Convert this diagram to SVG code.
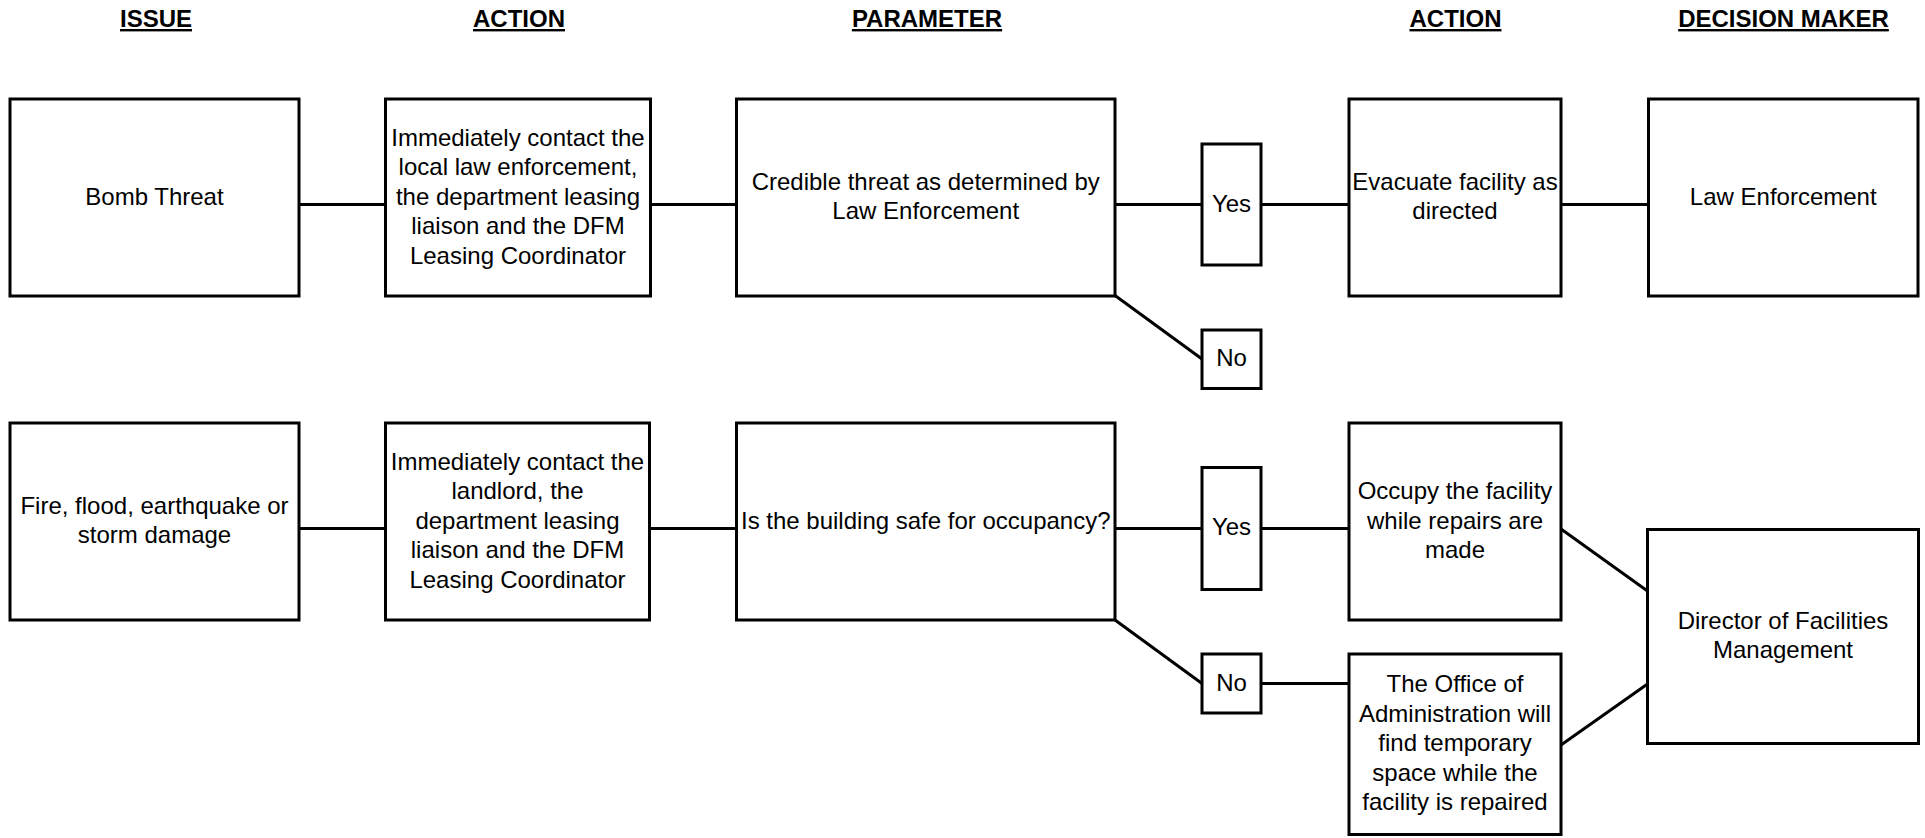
<svg xmlns="http://www.w3.org/2000/svg" width="1925" height="838" viewBox="0 0 1925 838">
<style>
.bg{fill:#fff}
.box{fill:#fff;stroke:#000;stroke-width:3}
.ln{stroke:#000;stroke-width:3;fill:none}
.t{font-family:"Liberation Sans",Arial,sans-serif;font-size:24px;fill:#000;text-anchor:middle}
.h{font-family:"Liberation Sans",Arial,sans-serif;font-size:24px;font-weight:bold;fill:#000;text-anchor:middle;text-decoration:underline}
</style>
<rect class="bg" x="0" y="0" width="1925" height="838"/>
<g id="headers">
<text class="h" x="156" y="27">ISSUE</text>
<text class="h" x="519" y="27">ACTION</text>
<text class="h" x="927" y="27">PARAMETER</text>
<text class="h" x="1455.5" y="27">ACTION</text>
<text class="h" x="1783.5" y="27">DECISION MAKER</text>
</g>
<g id="connectors">
<line class="ln" x1="299" y1="204.5" x2="385.5" y2="204.5"/>
<line class="ln" x1="650.5" y1="204.5" x2="736.5" y2="204.5"/>
<line class="ln" x1="1115" y1="204.5" x2="1202" y2="204.5"/>
<line class="ln" x1="1261" y1="204.5" x2="1349" y2="204.5"/>
<line class="ln" x1="1561" y1="204.5" x2="1648.5" y2="204.5"/>
<line class="ln" x1="1115" y1="295.5" x2="1202" y2="359"/>
<line class="ln" x1="299" y1="528.5" x2="385.5" y2="528.5"/>
<line class="ln" x1="649.5" y1="528.5" x2="736.5" y2="528.5"/>
<line class="ln" x1="1115" y1="528.5" x2="1202" y2="528.5"/>
<line class="ln" x1="1261" y1="528.5" x2="1349" y2="528.5"/>
<line class="ln" x1="1115" y1="620" x2="1202" y2="683.5"/>
<line class="ln" x1="1261" y1="683.5" x2="1349" y2="683.5"/>
<line class="ln" x1="1561" y1="529" x2="1647.5" y2="591"/>
<line class="ln" x1="1561" y1="745" x2="1647.5" y2="684"/>
</g>
<g id="bomb"><rect class="box" x="10" y="99" width="289" height="197"/><text class="t" x="154.5" y="204.5">Bomb Threat</text></g>
<g id="action1"><rect class="box" x="385.5" y="99" width="265" height="197"/><text class="t" x="518" y="145.5">Immediately contact the<tspan x="518" dy="29.5">local law enforcement,</tspan><tspan x="518" dy="29.5">the department leasing</tspan><tspan x="518" dy="29.5">liaison and the DFM</tspan><tspan x="518" dy="29.5">Leasing Coordinator</tspan></text></g>
<g id="param1"><rect class="box" x="736.5" y="99" width="378.5" height="197"/><text class="t" x="925.75" y="189.75">Credible threat as determined by<tspan x="925.75" dy="29.5">Law Enforcement</tspan></text></g>
<g id="yes1"><rect class="box" x="1202" y="144" width="59" height="121"/><text class="t" x="1231.5" y="211.5">Yes</text></g>
<g id="no1"><rect class="box" x="1202" y="330" width="59" height="58.5"/><text class="t" x="1231.5" y="366.3">No</text></g>
<g id="evacuate"><rect class="box" x="1349" y="99" width="212" height="197"/><text class="t" x="1455" y="189.75">Evacuate facility as<tspan x="1455" dy="29.5">directed</tspan></text></g>
<g id="lawenf"><rect class="box" x="1648.5" y="99" width="269.5" height="197"/><text class="t" x="1783.25" y="204.5">Law Enforcement</text></g>
<g id="fire"><rect class="box" x="10" y="423" width="289" height="197"/><text class="t" x="154.5" y="513.75">Fire, flood, earthquake or<tspan x="154.5" dy="29.5">storm damage</tspan></text></g>
<g id="action2"><rect class="box" x="385.5" y="423" width="264" height="197"/><text class="t" x="517.5" y="469.5">Immediately contact the<tspan x="517.5" dy="29.5">landlord, the</tspan><tspan x="517.5" dy="29.5">department leasing</tspan><tspan x="517.5" dy="29.5">liaison and the DFM</tspan><tspan x="517.5" dy="29.5">Leasing Coordinator</tspan></text></g>
<g id="param2"><rect class="box" x="736.5" y="423" width="378.5" height="197"/><text class="t" x="925.75" y="528.5">Is the building safe for occupancy?</text></g>
<g id="yes2"><rect class="box" x="1202" y="467.5" width="59" height="122"/><text class="t" x="1231.5" y="535">Yes</text></g>
<g id="no2"><rect class="box" x="1202" y="654" width="59" height="59"/><text class="t" x="1231.5" y="690.5">No</text></g>
<g id="occupy"><rect class="box" x="1349" y="423" width="212" height="197"/><text class="t" x="1455" y="499">Occupy the facility<tspan x="1455" dy="29.5">while repairs are</tspan><tspan x="1455" dy="29.5">made</tspan></text></g>
<g id="office"><rect class="box" x="1349" y="654" width="212" height="180.5"/><text class="t" x="1455" y="692">The Office of<tspan x="1455" dy="29.5">Administration will</tspan><tspan x="1455" dy="29.5">find temporary</tspan><tspan x="1455" dy="29.5">space while the</tspan><tspan x="1455" dy="29.5">facility is repaired</tspan></text></g>
<g id="director"><rect class="box" x="1647.5" y="529.5" width="271" height="214"/><text class="t" x="1783" y="628.75">Director of Facilities<tspan x="1783" dy="29.5">Management</tspan></text></g>
</svg>
